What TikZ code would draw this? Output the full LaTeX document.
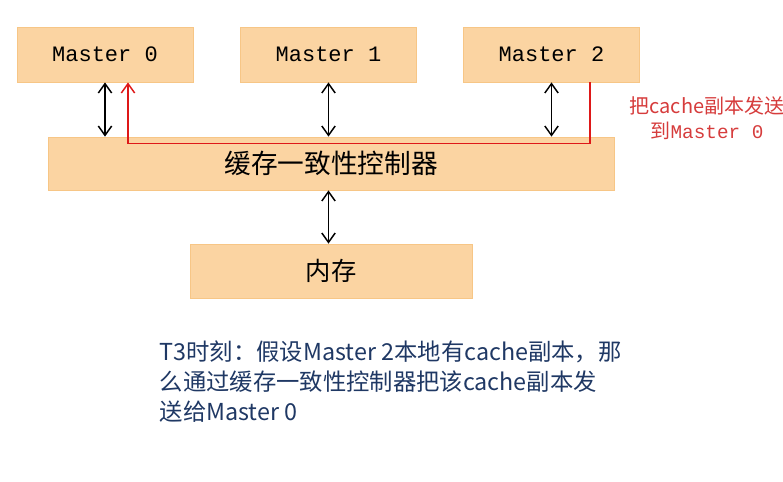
\documentclass[tikz,border=0pt]{standalone}
\usepackage{fontspec}
\newfontfamily\cjk{Noto Sans CJK SC}
\newfontfamily\mono{Liberation Mono}
\usepackage{xcolor}
\usepackage{tikz}
\usetikzlibrary{positioning,arrows.meta}

\definecolor{boxfill}{RGB}{251,212,162}
\definecolor{boxline}{RGB}{247,198,134}
\definecolor{sendred}{RGB}{222,24,24}
\definecolor{notered}{RGB}{214,60,60}
\definecolor{noteblue}{RGB}{31,56,100}

\begin{document}
\begin{tikzpicture}[
x=0.75pt, y=-0.75pt,
box/.style={draw=boxline, fill=boxfill, line width=0.6pt, inner sep=0pt, minimum height=41.25pt},
master/.style={box, minimum width=132pt, font=\mono\fontsize{16.5}{18}\selectfont},
arr/.style={{Straight Barb[length=7pt,width=10pt]}-{Straight Barb[length=7pt,width=10pt]}, line width=1.1pt},
sendarr/.style={-{Straight Barb[length=7pt,width=10pt]}, line width=1.1pt, draw=sendred}
]
\useasboundingbox (0,0) rectangle (783,482);
\node[master] (m0) at (105,54.5) {Master 0};
\node[master] (m1) at (328.5,54.5) {Master 1};
\node[master] (m2) at (551.5,54.5) {Master 2};
\node[box, minimum width=424.5pt, minimum height=39.75pt, font=\cjk\fontsize{20}{22}\selectfont] (ctrl) at (331,163.5) {缓存一致性控制器};
\node[box, minimum width=211.5pt, minimum height=40.5pt, font=\cjk\fontsize{19}{22}\selectfont] (mem) at (331,271) {内存};

\draw[arr] (m0.south) -- (m0.south |- ctrl.north);
\draw[arr] (m1.south) -- (m1.south |- ctrl.north);
\draw[arr] (m2.south) -- (m2.south |- ctrl.north);
\draw[arr] (ctrl.south -| m1) -- (mem.north -| m1);

% copy path from Master 2 back to Master 0
\coordinate (r0) at ([xshift=17.25pt]m0.south);
\coordinate (rc) at ([yshift=-5.25pt]ctrl.north);
\draw[sendarr] ([xshift=29pt]m2.south) |- (rc -| r0) -- (r0);
\node[anchor=north west, align=center, text=notered, font=\cjk\fontsize{15}{19}\selectfont] (lbl) at (625,92) {把cache副本发送\\到{\mono\fontsize{14.5}{19}\selectfont Master 0}};

\node[anchor=north west, align=left, text=noteblue, font=\cjk\fontsize{17.5}{22.5}\selectfont] (note) at (155,336) {T3时刻：假设Master 2本地有cache副本，那\\么通过缓存一致性控制器把该cache副本发\\送给Master 0};
\end{tikzpicture}
\end{document}
